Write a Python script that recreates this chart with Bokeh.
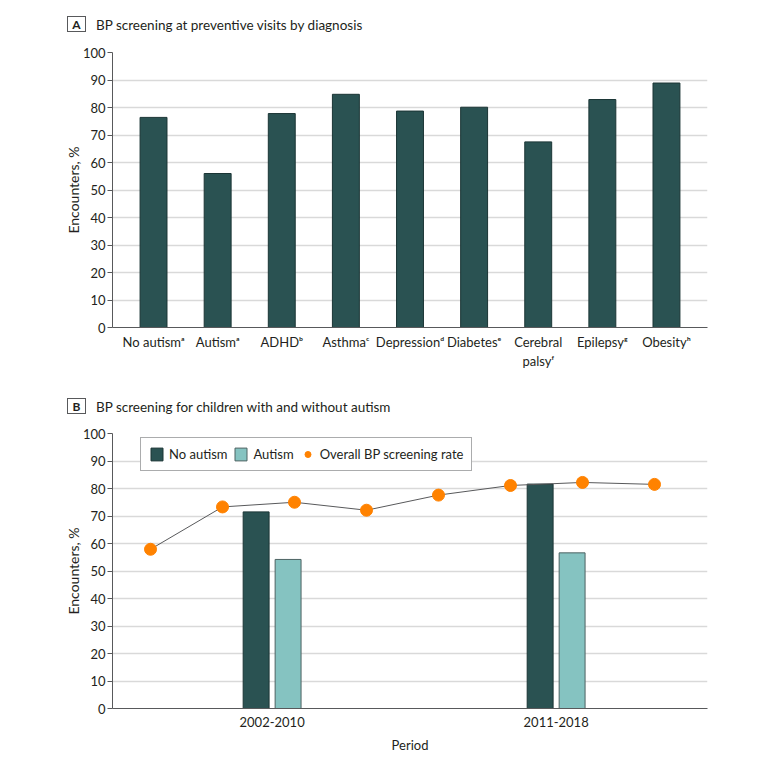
from bokeh.plotting import figure
from bokeh.models import (FactorRange, Range1d, Legend, LegendItem, SingleIntervalTicker,
                          ColumnDataSource, FixedTicker, Div)
from bokeh.layouts import column
from bokeh.embed import file_html
from bokeh.resources import INLINE

# ---- data ----
title_a = "BP screening at preventive visits by diagnosis"
title_b = "BP screening for children with and without autism"

diagnoses = ["No autism\u1d43", "Autism\u1d43", "ADHD\u1d47", "Asthma\u1d9c", "Depression\u1d48",
             "Diabetes\u1d49", "Cerebral\npalsy\u1da0", "Epilepsy\u1d4d", "Obesity\u02b0"]
screening_by_dx = [76.4, 56.0, 77.8, 84.8, 78.7, 80.1, 67.5, 82.9, 88.9]

periods = ["2002-2010", "2011-2018"]
no_autism = [71.5, 81.6]
autism = [54.2, 56.6]
overall_rate = [57.9, 73.3, 75.0, 72.1, 77.6, 81.1, 82.2, 81.5]

DARK = "#2a5252"
DARK_EDGE = "#1b3535"
LIGHT = "#85c3c1"
LIGHT_EDGE = "#4d6262"
ORANGE = "#ff8200"
FONT = "Lato"
TXT = "#231f20"
W = 780


def style(p):
    p.outline_line_color = None
    p.background_fill_color = "white"
    p.border_fill_color = "white"
    p.xgrid.grid_line_color = None
    p.ygrid.grid_line_color = "#d9d9d9"
    p.ygrid.grid_line_width = 1.3
    p.yaxis.ticker = SingleIntervalTicker(interval=10)
    p.yaxis.minor_tick_line_color = None
    p.yaxis.major_tick_out = 5
    p.yaxis.major_tick_in = 0
    p.yaxis.major_label_standoff = 2
    p.yaxis.axis_label = "Encounters, %"
    p.yaxis.axis_label_standoff = -2
    for ax in (p.xaxis, p.yaxis):
        ax.axis_line_color = "#58595b"
        ax.major_label_text_font = FONT
        ax.major_label_text_font_size = "13px"
        ax.major_label_text_color = TXT
        ax.axis_label_text_font = FONT
        ax.axis_label_text_font_size = "13px"
        ax.axis_label_text_font_style = "normal"
        ax.axis_label_text_color = TXT
    p.yaxis.axis_label_text_font_size = "14px"
    p.yaxis.major_tick_line_color = "#58595b"
    p.xaxis.major_tick_line_color = None
    p.xaxis.minor_tick_line_color = None


def header(letter, text, h, box_top):
    html = (
        f'<div style="position:relative;width:{W}px;height:{h}px;font-family:Lato,sans-serif;'
        f'color:{TXT};margin:0;padding:0;">'
        f'<div style="position:absolute;left:67px;top:{box_top}px;width:19px;height:16px;'
        f'border:1px solid #58595b;font-weight:bold;font-size:12px;line-height:16px;'
        f'text-align:center;">{letter}</div>'
        f'<div style="position:absolute;left:96px;top:{box_top}px;height:18px;line-height:18px;'
        f'font-size:13.5px;white-space:nowrap;">{text}</div></div>'
    )
    return Div(text=html, width=W, height=h, margin=0)


# ---- Panel A ----
ha = header("A", title_a, 40, 16)
pa = figure(width=W, height=348, x_range=FactorRange(*diagnoses, range_padding=0.14,
                                                      range_padding_units="absolute"),
            y_range=Range1d(0, 100), output_backend="svg", toolbar_location=None,
            min_border_left=112, min_border_right=73, min_border_top=12, min_border_bottom=61)
pa.vbar(x=diagnoses, top=screening_by_dx, width=0.42, fill_color=DARK, line_color=DARK_EDGE, line_width=1)
style(pa)
pa.xaxis.major_label_standoff = 0

# ---- Panel B ----
# x axis measured in "rate point" steps; the two period groups are laid out like
# a padded categorical axis across the same span.
X0, X1 = -0.528, 7.736
pad_l, pad_r = 0.062, 0.033
span = X1 - X0
period_x = [X0 + (k + 0.5 + pad_l) / (len(periods) + pad_l + pad_r) * span for k in range(len(periods))]
bar_w = 0.36
off = 0.222

hb = header("B", title_b, 32, 10)
pb = figure(width=W, height=344, x_range=Range1d(X0, X1),
            y_range=Range1d(0, 100), output_backend="svg", toolbar_location=None,
            min_border_left=112, min_border_right=73, min_border_top=13, min_border_bottom=56)
src = ColumnDataSource(dict(xa=[x - off for x in period_x], xb=[x + off for x in period_x],
                            no_autism=no_autism, autism=autism))
r1 = pb.vbar(x="xa", top="no_autism", width=bar_w, source=src,
             fill_color=DARK, line_color=DARK_EDGE, line_width=1)
r2 = pb.vbar(x="xb", top="autism", width=bar_w, source=src,
             fill_color=LIGHT, line_color=LIGHT_EDGE, line_width=1)
seq = list(range(len(overall_rate)))
pb.line(seq, overall_rate, line_color="#58595b", line_width=1)
r3 = pb.scatter(seq, overall_rate, size=12, fill_color=ORANGE, line_color=ORANGE)
style(pb)
pb.xaxis.ticker = FixedTicker(ticks=period_x)
pb.xaxis.major_label_overrides = {x: lab for x, lab in zip(period_x, periods)}
pb.xaxis.major_label_standoff = 2
pb.xaxis.axis_label = "Period"
pb.xaxis.axis_label_standoff = 7

legend = Legend(items=[LegendItem(label="No autism", renderers=[r1]),
                       LegendItem(label="Autism", renderers=[r2]),
                       LegendItem(label="Overall BP screening rate", renderers=[r3])],
                orientation="horizontal", location=(28, 237), padding=8, spacing=6,
                glyph_width=15, glyph_height=16, label_standoff=5, margin=0,
                label_text_font=FONT, label_text_font_size="13px", label_text_color=TXT,
                border_line_color="#58595b", border_line_width=1, background_fill_alpha=1)
pb.add_layout(legend)

layout = column(ha, pa, hb, pb, spacing=0)
open("out.html", "w").write(file_html(layout, INLINE))
